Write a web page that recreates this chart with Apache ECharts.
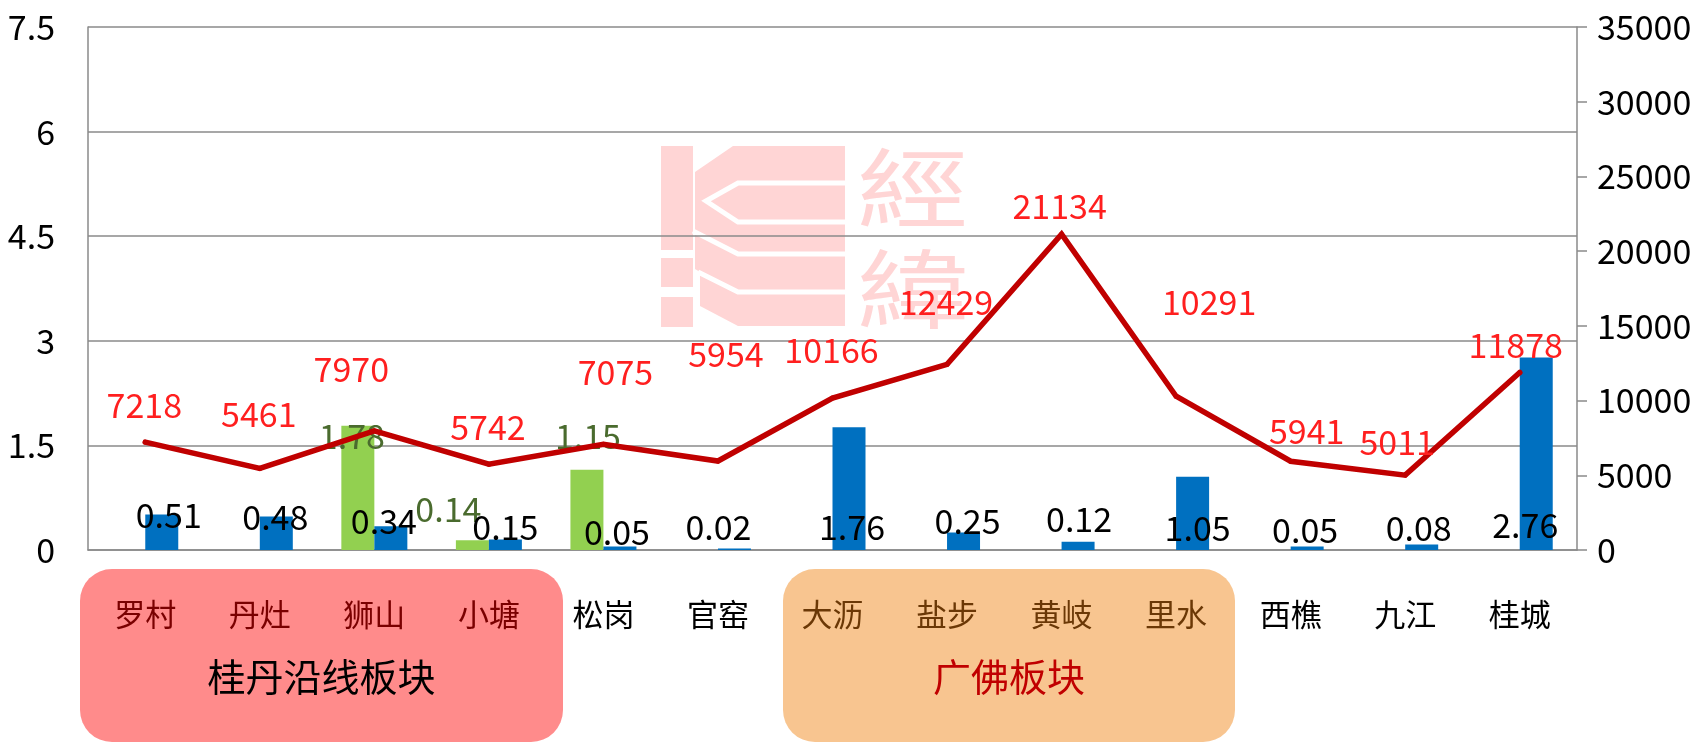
<!DOCTYPE html>
<html><head><meta charset="utf-8">
<script src="https://cdn.jsdelivr.net/npm/echarts@6/dist/echarts.min.js"></script>
<style>html,body{margin:0;padding:0;background:#fff}#c{width:1706px;height:743px}</style>
</head><body><div id="c"></div>
<script>
// ---- data ----
const categories = ['罗村','丹灶','狮山','小塘','松岗','官窑','大沥','盐步','黄岐','里水','西樵','九江','桂城'];
const greenValues = [null,null,1.78,0.14,1.15,null,null,null,null,null,null,null,null];
const blueValues  = [0.51,0.48,0.34,0.15,0.05,0.02,1.76,0.25,0.12,1.05,0.05,0.08,2.76];
const lineValues  = [7218,5461,7970,5742,7075,5954,10166,12429,21134,10291,5941,5011,11878];
const leftAxisRange  = [0, 7.5, 1.5];
const rightAxisRange = [0, 35000, 5000];
const groupNames = ['桂丹沿线板块','广佛板块'];

// ---- label placement as in the reference (px) ----
const lineLabelOffsets = [[-1,-37],[-1,-54],[-23,-62],[-1,-37],[12,-72],[8,-107],[-1,-48],[-1,-62],[-2,-28],[33,-94],[16,-30],[-8,-33],[-4,-27]];
const blueLabelPlace  = [[7,35],[-1,33],[-7,29],[0,23],[-3,18],[-16,23],[3,23],[4,29],[1,31],[5,22],[-2,20],[-3,22],[-11,25]];
const greenLabelPlace = [null,null,[-6,114],[-24,41],[1,114],null,null,null,null,null,null,null,null];

const FONT = "'Noto Sans CJK SC', 'Noto Sans', sans-serif";
const NUM = 34;
const catColor = (v, i) => (i <= 3 ? '#7A0000' : (i >= 6 && i <= 9 ? '#6B3806' : '#000000'));

function barData(vals, place, color) {
  return vals.map((v, i) => {
    if (v == null) return '-';
    const p = place[i];
    return { value: v, label: { show: true, position: 'insideBottom', distance: p[1], verticalAlign: 'middle', align: 'center', offset: [p[0], 0], color: color } };
  });
}

const chart = echarts.init(document.getElementById('c'), null, { renderer: 'canvas' });
const option = {
  backgroundColor: '#ffffff',
  animation: false,
  textStyle: { fontFamily: FONT },
  grid: { left: 88, right: 129, top: 27, bottom: 193, containLabel: false },
  xAxis: {
    type: 'category', data: categories,
    axisLine: { show: true, lineStyle: { color: '#8A8A8A', width: 1.5 } },
    axisTick: { show: false },
    axisLabel: { fontSize: 31, lineHeight: 31, margin: 49, color: catColor, fontFamily: FONT }
  },
  yAxis: [
    { type: 'value', min: leftAxisRange[0], max: leftAxisRange[1], interval: leftAxisRange[2],
      axisLine: { show: true, lineStyle: { color: '#8A8A8A', width: 1.5 } },
      axisTick: { show: false },
      splitLine: { show: true, lineStyle: { color: '#8A8A8A', width: 1.5 } },
      axisLabel: { fontSize: NUM, color: '#000', margin: 33, fontFamily: FONT } },
    { type: 'value', min: rightAxisRange[0], max: rightAxisRange[1], interval: rightAxisRange[2],
      axisLine: { show: true, lineStyle: { color: '#8A8A8A', width: 1.5 } },
      axisTick: { show: true, inside: false, length: 10, lineStyle: { color: '#8A8A8A', width: 1.5 } },
      splitLine: { show: false },
      axisLabel: { fontSize: NUM, color: '#000', margin: 20, fontFamily: FONT, formatter: v => String(v) } }
  ],
  series: [
    { name: 'green', type: 'bar', yAxisIndex: 0, barWidth: 33, barGap: '0%',
      itemStyle: { color: '#92D050' },
      label: { show: true, fontSize: NUM, fontFamily: FONT },
      data: barData(greenValues, greenLabelPlace, '#4A6B2E') },
    { name: 'blue', type: 'bar', yAxisIndex: 0, barWidth: 33, barGap: '0%',
      itemStyle: { color: '#0070C0' },
      label: { show: true, fontSize: NUM, fontFamily: FONT },
      data: barData(blueValues, blueLabelPlace, '#000000') },
    { name: 'line', type: 'line', yAxisIndex: 1, symbol: 'circle', symbolSize: 5,
      itemStyle: { color: '#C00000' },
      lineStyle: { color: '#C00000', width: 5.5, cap: 'round', join: 'miter' },
      label: { show: true, position: 'inside', fontSize: NUM, color: '#FF1F1F', fontFamily: FONT },
      data: lineValues.map((v, i) => ({ value: v, label: { offset: lineLabelOffsets[i] } })) }
  ],
  graphic: [
    // group boxes behind the category labels
    { type: 'rect', z: -10, shape: { x: 80, y: 569, width: 483, height: 173, r: 32 }, style: { fill: '#FF8B8B' } },
    { type: 'rect', z: -10, shape: { x: 783, y: 569, width: 452, height: 173, r: 32 }, style: { fill: '#F8C590' } },
    { type: 'text', z: 5, x: 321.5, y: 677, style: { text: groupNames[0], fontSize: 38, fill: '#000', align: 'center', verticalAlign: 'middle', fontFamily: FONT } },
    { type: 'text', z: 5, x: 1009, y: 677, style: { text: groupNames[1], fontSize: 38, fill: '#C00000', align: 'center', verticalAlign: 'middle', fontFamily: FONT } },
    // watermark logo
    { type: 'rect', z: -10, shape: { x: 661, y: 146, width: 32, height: 104 }, style: { fill: '#FFD5D5' } },
    { type: 'rect', z: -10, shape: { x: 661, y: 258, width: 32, height: 29 }, style: { fill: '#FFD5D5' } },
    { type: 'rect', z: -10, shape: { x: 661, y: 297, width: 32, height: 30 }, style: { fill: '#FFD5D5' } },
    { type: 'polygon', z: -10, shape: { points: [[695,172],[733,146],[845,146],[845,326],[738,326],[700,306],[700,272],[695,269]] }, style: { fill: '#FFD5D5' } },
    { type: 'polyline', z: -9, shape: { points: [[846,183],[738,183],[706,201],[738,222],[846,222]] }, style: { stroke: '#FFFFFF', lineWidth: 5, fill: null } },
    { type: 'polyline', z: -9, shape: { points: [[693,231],[738,254],[846,254]] }, style: { stroke: '#FFFFFF', lineWidth: 5, fill: null } },
    { type: 'polyline', z: -9, shape: { points: [[698,272],[738,292],[846,292]] }, style: { stroke: '#FFFFFF', lineWidth: 5, fill: null } },
    { type: 'text', z: -10, x: 913, y: 188, scaleX: 1.3, style: { text: '經', fontSize: 86, fill: '#FFD5D5', align: 'center', verticalAlign: 'middle', fontFamily: "'Noto Sans CJK TC'" } },
    { type: 'text', z: -10, x: 913, y: 289, scaleX: 1.3, style: { text: '緯', fontSize: 86, fill: '#FFD5D5', align: 'center', verticalAlign: 'middle', fontFamily: "'Noto Sans CJK TC'" } }
  ]
};
chart.setOption(option);
</script>
</body></html>
